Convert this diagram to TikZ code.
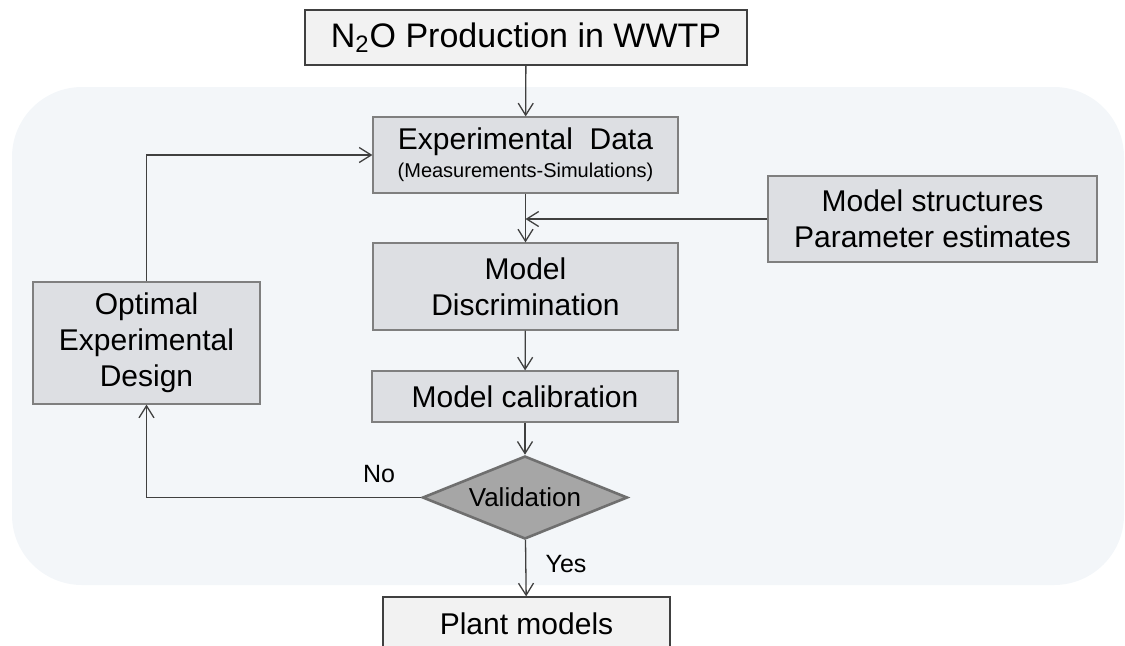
\documentclass[tikz,border=0pt]{standalone}
\usepackage{fontspec}
\setmainfont{Liberation Sans}
\usetikzlibrary{shapes.geometric,arrows.meta}
\definecolor{boxfill}{HTML}{DDDFE3}
\definecolor{palefill}{HTML}{F2F2F2}
\definecolor{panel}{HTML}{F3F6F9}
\definecolor{linegray}{HTML}{404040}
\definecolor{boxline}{HTML}{7F7F7F}
\definecolor{diafill}{HTML}{A6A6A6}
\definecolor{dialine}{HTML}{6F6F6F}
\begin{document}
\begin{tikzpicture}[x=0.5pt, y=-0.5pt,
    stage/.style={draw=boxline, fill=boxfill, line width=0.6pt, inner sep=0pt,
        align=center, font=\fontsize{15}{18}\selectfont},
    io/.style={stage, draw=linegray, fill=palefill},
    test/.style={diamond, draw=dialine, fill=diafill, line width=1.3pt, inner sep=0pt,
        aspect=2.47, minimum width=102.5pt, minimum height=41.5pt,
        font=\fontsize{13}{15}\selectfont},
    link/.style={draw=linegray, line width=0.65pt, -{Straight Barb[length=6pt,width=7.5pt]}},
    answer/.style={font=\fontsize{12.5}{15}\selectfont}]
    \useasboundingbox (0,0) rectangle (1125,645);
    % background panel
    \fill[panel, rounded corners=35pt] (12,87) rectangle (1124,585);
    % boxes
    \node[io, minimum width=221pt, minimum height=27.5pt, font=\fontsize{17}{20}\selectfont]
        (prod) at (526,37.5) {N\textsubscript{2}O Production in WWTP};
    \node[stage, minimum width=152.5pt, minimum height=38pt] (data) at (525.5,155)
        {Experimental\ \ Data\\[-4pt]{\fontsize{10}{12}\selectfont (Measurements-Simulations)}};
    \node[stage, minimum width=164.5pt, minimum height=43pt] (struct) at (932.5,219)
        {Model structures\\Parameter estimates};
    \node[stage, minimum width=152.5pt, minimum height=43.5pt] (disc) at (525.5,286.5)
        {Model\\Discrimination};
    \node[stage, minimum width=153pt, minimum height=25.5pt] (calib) at (525,396.5)
        {Model calibration};
    \node[test] (valid) at (525,497.5) {Validation};
    \node[stage, minimum width=113.5pt, minimum height=61pt] (oed) at (146.5,343)
        {Optimal\\Experimental\\Design};
    \node[io, minimum width=143.5pt, minimum height=27pt] (plant) at (526.5,624)
        {Plant models};
    % answers
    \node[answer] (no) at (379,474) {No};
    \node[answer] (yes) at (566,564) {Yes};
    % arrows
    \foreach \a/\b in {prod/data, data/disc, disc/calib, calib/valid, valid/plant}
        \draw[link] (\a) -- (\b);
    \coordinate (join) at (data.south |- struct.west);
    \draw[link] (struct.west) -- (join);
    \draw[link] (valid.west) -| (oed.south);
    \draw[link] (oed.north) |- (data.west);
\end{tikzpicture}
\end{document}
